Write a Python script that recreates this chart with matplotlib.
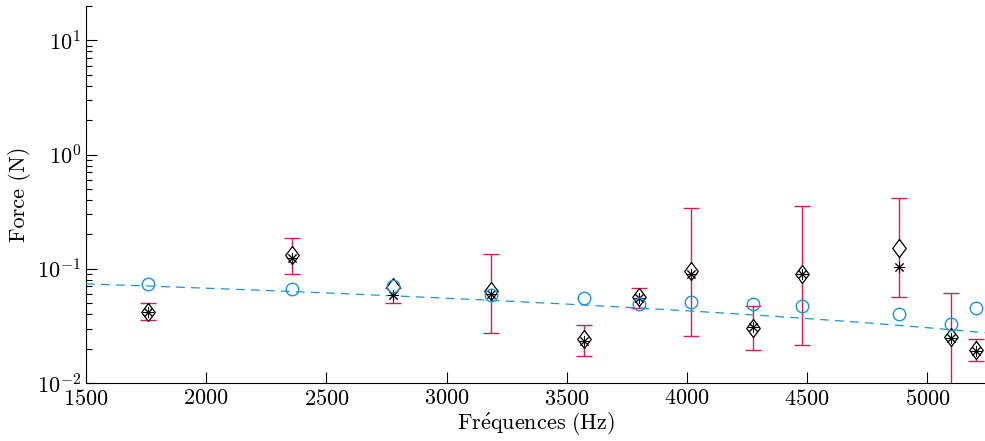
import numpy as np
import matplotlib
matplotlib.use('Agg')
import matplotlib.pyplot as plt

plt.rcParams['font.family'] = ['cmr10', 'DejaVu Serif']
plt.rcParams['mathtext.fontset'] = 'cm'
plt.rcParams['axes.formatter.use_mathtext'] = True
plt.rcParams['axes.unicode_minus'] = False

# frequences (Hz)
freq = [1758, 2358, 2779, 3183, 3571, 3800, 4017, 4275, 4479, 4883, 5100, 5204]
# mesures (cercles bleus)
f_circle = [0.0738, 0.0668, 0.0710, 0.0590, 0.0557, 0.0493, 0.0514, 0.0493, 0.0473, 0.0403, 0.0330, 0.0455]
# losanges
f_diamond = [0.0420, 0.1330, 0.0690, 0.0640, 0.0243, 0.0567, 0.0960, 0.0303, 0.0900, 0.1530, 0.0253, 0.0195]
# etoiles
f_star = [0.0415, 0.1240, 0.0590, 0.0600, 0.0233, 0.0550, 0.0900, 0.0310, 0.0900, 0.1040, 0.0250, 0.0190]
# barres d'erreur
err_low = [0.0357, 0.0904, 0.0504, 0.0275, 0.0173, 0.0455, 0.0258, 0.0195, 0.0216, 0.0567, 0.0050, 0.0156]
err_high = [0.0504, 0.1870, 0.0680, 0.1350, 0.0323, 0.0680, 0.3430, 0.0473, 0.3570, 0.4200, 0.0615, 0.0243]
# regression lineaire des cercles
fit_a = 0.0924
fit_b = -1.238e-5

red = '#d81b60'
blue = '#1996d6'

# losange style matlab (plus haut que large)
diamond = [(0, 1), (0.75, 0), (0, -1), (-0.75, 0), (0, 1)]

fig = plt.figure(figsize=(9.85, 4.41), dpi=100)
ax = fig.add_axes([0.0873, 0.1315, 0.9127, 0.855])

lo = np.array(err_low)
hi = np.array(err_high)
center = np.sqrt(lo * hi)
ax.errorbar(freq, center, yerr=[center - lo, hi - center], fmt='none',
            ecolor=red, elinewidth=1.0, capsize=6, capthick=1.0, zorder=2)

xs = np.linspace(1500, 5240, 200)
ax.plot(xs, fit_a + fit_b * xs, '--', color=blue, lw=0.9, dashes=(7, 5), zorder=3)

ax.plot(freq, f_diamond, ls='none', marker=diamond, ms=13, mfc='white', mec='black', mew=0.9, zorder=4)
ax.plot(freq, f_star, ls='none', marker=(8, 2, 0), ms=8, color='black', mew=0.7, zorder=5)
ax.plot(freq, f_circle, 'o', ms=9, mfc='none', mec=blue, mew=1.0, zorder=6)

ax.set_yscale('log')
ax.set_xlim(1500, 5240)
ax.set_ylim(0.01, 20)
ax.set_xticks([1500, 2000, 2500, 3000, 3500, 4000, 4500, 5000])
ax.set_yticks([0.01, 0.1, 1, 10])

for s in ['top', 'right']:
    ax.spines[s].set_visible(False)
ax.tick_params(direction='in', labelsize=16, length=8, width=0.8)
ax.tick_params(which='minor', direction='in', length=4, width=0.8)
ax.tick_params(axis='x', pad=4)

ax.set_xlabel(r'$\mathrm{Fr\acute{e}quences\ (Hz)}$', fontsize=16, labelpad=2)
ax.set_ylabel('Force (N)', fontsize=16, labelpad=4)

fig.savefig('out.png', dpi=100)
